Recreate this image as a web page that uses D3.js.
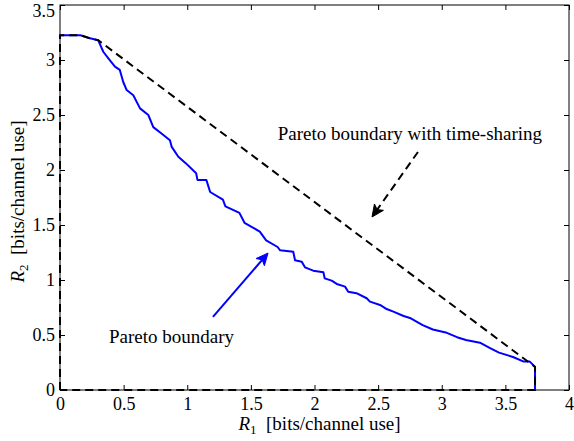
<!DOCTYPE html>
<html>
<head>
<meta charset="utf-8">
<script src="https://cdn.jsdelivr.net/npm/d3@7"></script>
<style>
  html, body { margin: 0; padding: 0; background: #fff; }
  svg { display: block; }
  svg text { font-family: "Liberation Serif", "Times New Roman", Times, "DejaVu Serif", serif !important; fill: #000; }
</style>
</head>
<body>
<svg id="chart" width="574" height="441"></svg>
<script>
// ---- Data ----
const xTicks = [0, 0.5, 1, 1.5, 2, 2.5, 3, 3.5, 4];
const yTicks = [0, 0.5, 1, 1.5, 2, 2.5, 3, 3.5];
const xTickLabels = ["0", "0.5", "1", "1.5", "2", "2.5", "3", "3.5", "4"];
const yTickLabels = ["0", "0.5", "1", "1.5", "2", "2.5", "3", "3.5"];

// Pareto boundary (blue)
const paretoR1 = [0, 0.16, 0.236, 0.30, 0.34, 0.38, 0.432, 0.47, 0.497, 0.524, 0.576, 0.629, 0.694, 0.733, 0.80, 0.864, 0.878, 0.93,
  0.99, 1.07, 1.08, 1.15, 1.18, 1.28, 1.30, 1.41, 1.45, 1.57, 1.62, 1.71, 1.73, 1.833, 1.847, 1.90, 1.925, 1.99, 2.07, 2.08,
  2.135, 2.175, 2.24, 2.265, 2.33, 2.41, 2.436, 2.515, 2.567, 2.62, 2.70, 2.75, 2.85, 2.93, 3.04, 3.12, 3.19, 3.30, 3.38,
  3.45, 3.56, 3.64, 3.69, 3.733, 3.733];
const paretoR2 = [3.225, 3.225, 3.197, 3.18, 3.075, 3.015, 2.94, 2.91, 2.80, 2.727, 2.68, 2.56, 2.50, 2.39, 2.33, 2.27, 2.21, 2.12,
  2.06, 1.97, 1.91, 1.91, 1.80, 1.73, 1.67, 1.61, 1.52, 1.44, 1.36, 1.30, 1.27, 1.257, 1.18, 1.166, 1.115, 1.085, 1.07, 1.015,
  0.994, 0.964, 0.94, 0.894, 0.88, 0.834, 0.803, 0.773, 0.736, 0.712, 0.673, 0.655, 0.59, 0.55, 0.52, 0.48, 0.455, 0.43, 0.38,
  0.34, 0.30, 0.26, 0.26, 0.21, 0];

// Pareto boundary with time-sharing (black dashed, closed region)
const tsR1 = [0, 0, 0.16, 0.236, 0.30, 3.733, 3.733, 0];
const tsR2 = [0, 3.225, 3.225, 3.197, 3.18, 0.21, 0, 0];

// Annotations (data coordinates)
const annoTS = { text: "Pareto boundary with time-sharing", x: 2.75, y: 2.273, tailX: 2.813, tailY: 2.164, tipX: 2.452, tipY: 1.573 };
const annoP = { text: "Pareto boundary", x: 0.876, y: 0.427, tailX: 1.202, tailY: 0.664, tipX: 1.635, tipY: 1.245 };

// ---- Layout ----
const W = 574, H = 441;
const margin = { left: 60, right: 5, top: 5, bottom: 51 };
const pw = W - margin.left - margin.right;
const ph = H - margin.top - margin.bottom;
const FONT = '"Liberation Serif", "Times New Roman", Times, "DejaVu Serif", serif';

const svg = d3.select("#chart");
const g = svg.append("g").attr("transform", `translate(${margin.left},${margin.top})`);

const x = d3.scaleLinear().domain([0, 4]).range([0, pw]);
const y = d3.scaleLinear().domain([0, 3.5]).range([ph, 0]);

const FS = 18;

// Axes with inward ticks
const xAxis = d3.axisBottom(x).tickValues(xTicks).tickFormat((d, i) => xTickLabels[i]).tickSize(-5).tickPadding(7);
const yAxis = d3.axisLeft(y).tickValues(yTicks).tickFormat((d, i) => yTickLabels[i]).tickSize(-5).tickPadding(5);
const xAxisTop = d3.axisTop(x).tickValues(xTicks).tickFormat("").tickSize(-5);
const yAxisRight = d3.axisRight(y).tickValues(yTicks).tickFormat("").tickSize(-5);

function styleAxis(sel) {
  sel.attr("font-family", FONT).attr("font-size", FS);
  sel.select(".domain").remove();
  sel.selectAll(".tick line").attr("stroke", "#000").attr("stroke-width", 1);
  sel.selectAll(".tick text").attr("fill", "#000");
}

g.append("g").attr("transform", `translate(0,${ph})`).call(xAxis).call(styleAxis);
const gy = g.append("g").call(yAxis).call(styleAxis);
// keep top label inside the picture
gy.selectAll(".tick text").filter(d => d === 3.5).attr("dy", "0.62em");
g.append("g").call(xAxisTop).call(styleAxis);
g.append("g").attr("transform", `translate(${pw},0)`).call(yAxisRight).call(styleAxis);

// Frame
g.append("rect").attr("x", 0).attr("y", 0).attr("width", pw).attr("height", ph)
  .attr("fill", "none").attr("stroke", "#000").attr("stroke-width", 1);

const line = d3.line().x(d => x(d[0])).y(d => y(d[1]));

// Blue Pareto boundary
const pData = paretoR1.map((v, i) => [v, paretoR2[i]]);
g.append("path").datum(pData).attr("d", line)
  .attr("fill", "none").attr("stroke", "#0000ff").attr("stroke-width", 2).attr("stroke-linejoin", "round");

// Black dashed time-sharing boundary
const tData = tsR1.map((v, i) => [v, tsR2[i]]);
g.append("path").datum(tData).attr("d", line)
  .attr("fill", "none").attr("stroke", "#000").attr("stroke-width", 2).attr("stroke-dasharray", "8,5");

// Arrows
function arrow(a, color, dashed) {
  const x1 = x(a.tailX), y1 = y(a.tailY), x2 = x(a.tipX), y2 = y(a.tipY);
  const ang = Math.atan2(y2 - y1, x2 - x1);
  const L = 12, Wd = 5.5, back = 9;
  const ux = Math.cos(ang), uy = Math.sin(ang);
  const px = -uy, py = ux;
  g.append("line").attr("x1", x1).attr("y1", y1)
    .attr("x2", x2 - ux * back).attr("y2", y2 - uy * back)
    .attr("stroke", color).attr("stroke-width", 2)
    .attr("stroke-dasharray", dashed ? "8,5" : null);
  const pts = [
    [x2, y2],
    [x2 - ux * L + px * Wd, y2 - uy * L + py * Wd],
    [x2 - ux * back, y2 - uy * back],
    [x2 - ux * L - px * Wd, y2 - uy * L - py * Wd]
  ];
  g.append("path").attr("d", "M" + pts.map(p => p.join(",")).join("L") + "Z").attr("fill", color).attr("stroke", color).attr("stroke-width", 1);
}
arrow(annoTS, "#000", true);
arrow(annoP, "#0000ff", false);

// Annotation texts
g.append("text").attr("x", x(annoTS.x)).attr("y", y(annoTS.y)).attr("text-anchor", "middle")
  .attr("font-family", FONT).attr("font-size", 19).text(annoTS.text);
g.append("text").attr("x", x(annoP.x)).attr("y", y(annoP.y)).attr("text-anchor", "middle")
  .attr("font-family", FONT).attr("font-size", 19).text(annoP.text);

// Axis labels
const xl = svg.append("text").attr("x", margin.left + pw / 2 + 5).attr("y", 430).attr("text-anchor", "middle")
  .attr("font-family", FONT).attr("font-size", 19);
xl.append("tspan").attr("font-style", "italic").text("R");
xl.append("tspan").attr("font-size", 13).attr("dy", 4).text("1");
xl.append("tspan").attr("dy", -4).text("\u2002[bits/channel use]");

const yl = svg.append("text").attr("transform", `translate(24,${margin.top + ph / 2 + 4}) rotate(-90)`).attr("text-anchor", "middle")
  .attr("font-family", FONT).attr("font-size", 19);
yl.append("tspan").attr("font-style", "italic").text("R");
yl.append("tspan").attr("font-size", 13).attr("dy", 4).text("2");
yl.append("tspan").attr("dy", -4).text("\u2002[bits/channel use]");
</script>
</body>
</html>
